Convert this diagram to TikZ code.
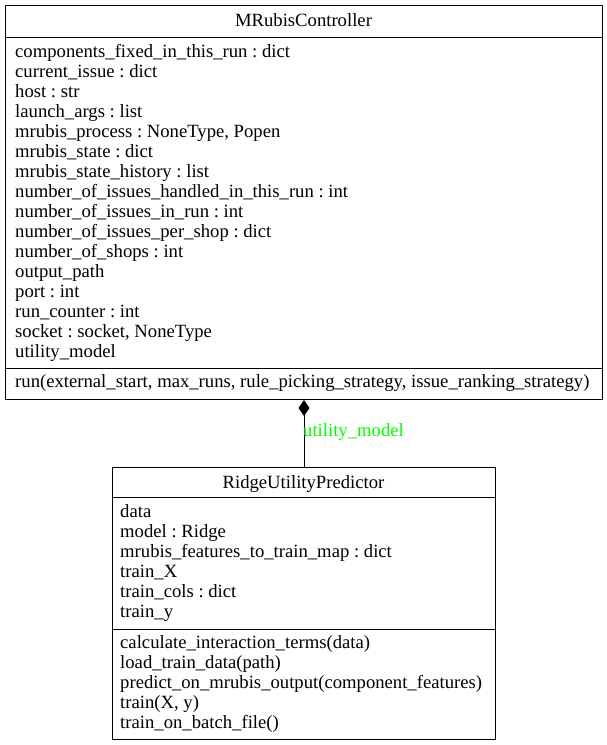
\documentclass[tikz,border=0pt]{standalone}
\usepackage{fontspec}
\setmainfont{Liberation Serif}
\usetikzlibrary{arrows.meta}
\definecolor{edgelabel}{RGB}{0,255,0}
\frenchspacing
\begin{document}
\begin{tikzpicture}[x=1pt,y=-1pt,
  compartment/.style={draw=black,line width=1pt,inner sep=0pt,anchor=north west},
  umltext/.style={inner sep=0pt,font=\fontsize{18.67}{20}\selectfont},
  member/.style={umltext,anchor=base west},
  classname/.style={umltext,anchor=base},
  composition/.style={draw=black,line width=1pt,{Diamond[length=16pt,width=11pt]}-}]
\useasboundingbox (0,0) rectangle (607,745);

% MRubisController class box
\node[compartment,minimum width=597pt,minimum height=32pt] (ctrl-title) at (5,5) {};
\node[compartment,minimum width=597pt,minimum height=331pt] (ctrl-attrs) at (5,37) {};
\node[compartment,minimum width=597pt,minimum height=31pt] (ctrl-ops) at (5,368) {};
\node[classname] (ctrl-name) at (303.5,26) {MRubisController};
\foreach \t [count=\i] in {
  components\_fixed\_in\_this\_run : dict,
  current\_issue : dict,
  host : str,
  launch\_args : list,
  {mrubis\_process : NoneType, Popen},
  mrubis\_state : dict,
  mrubis\_state\_history : list,
  number\_of\_issues\_handled\_in\_this\_run : int,
  number\_of\_issues\_in\_run : int,
  number\_of\_issues\_per\_shop : dict,
  number\_of\_shops : int,
  output\_path,
  port : int,
  run\_counter : int,
  {socket : socket, NoneType},
  utility\_model}
  \node[member] (ctrl-attr-\i) at (15,37+20*\i) {\t};
\node[member] (ctrl-op-1) at (15,387) {run(external\_start, max\_runs, rule\_picking\_strategy, issue\_ranking\_strategy)};

% RidgeUtilityPredictor class box
\node[compartment,minimum width=383pt,minimum height=30pt] (pred-title) at (112,467) {};
\node[compartment,minimum width=383pt,minimum height=132pt] (pred-attrs) at (112,497) {};
\node[compartment,minimum width=383pt,minimum height=110pt] (pred-ops) at (112,629) {};
\node[classname] (pred-name) at (303.5,488) {RidgeUtilityPredictor};
\foreach \t [count=\i] in {
  data,
  model : Ridge,
  mrubis\_features\_to\_train\_map : dict,
  train\_X,
  train\_cols : dict,
  train\_y}
  \node[member] (pred-attr-\i) at (120,497+20*\i) {\t};
\foreach \t [count=\i] in {
  calculate\_interaction\_terms(data),
  load\_train\_data(path),
  predict\_on\_mrubis\_output(component\_features),
  {train(X, y)},
  train\_on\_batch\_file()}
  \node[member] (pred-op-\i) at (120,628+20*\i) {\t};

% composition: the controller owns the predictor as utility_model
\draw[composition] (ctrl-ops.south) -- (pred-title.north);
\node[member,text=edgelabel] (edge-label) at (303,436) {utility\_model};
\end{tikzpicture}
\end{document}
